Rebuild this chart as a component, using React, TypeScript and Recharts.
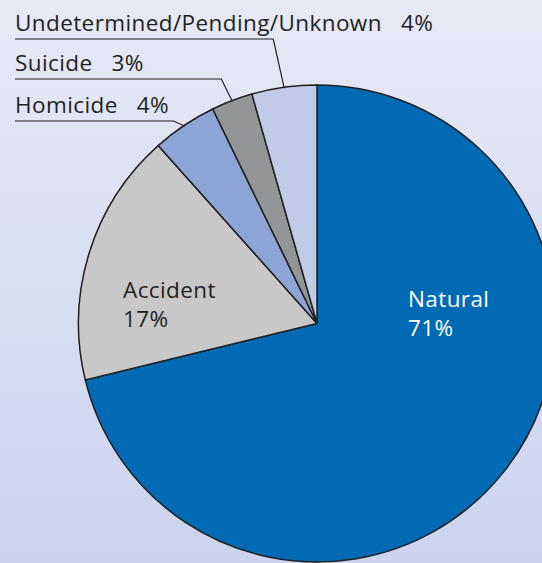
import React from 'react';
import { PieChart, Pie, Cell } from 'recharts';

// causes of death, clockwise from 12 o'clock
const causes = ['Natural', 'Accident', 'Homicide', 'Suicide', 'Undetermined/Pending/Unknown'];
const shares = [71.2, 17.2, 4.4, 2.8, 4.4];
const sliceColors = ['#006ab4', '#c8c8c8', '#8ca4d6', '#949597', '#c1cbe7'];

const data = causes.map((name, i) => ({ name, value: shares[i] }));

const RADIAN = Math.PI / 180;
const FONT = '"Open Sans", "DejaVu Sans", sans-serif';
const INK = '#231f20';

// y of the underline for each outside label (by slice index)
const rowY: Record<number, number> = { 2: 121, 3: 79, 4: 39 };

const renderLabel = (props: any) => {
  const { cx, cy, midAngle, outerRadius, index, name, value } = props;
  const pct = `${Math.round(value)}%`;

  if (index === 0 || index === 1) {
    const inside = index === 0
      ? { x: cx + 91, y: cy - 17, fill: '#ffffff' }
      : { x: cx - 194, y: cy - 26, fill: INK };
    return (
      <text x={inside.x} y={inside.y} fill={inside.fill} fontSize={22.5} letterSpacing={0.4} fontFamily={FONT}>
        <tspan x={inside.x}>{name}</tspan>
        <tspan x={inside.x} dy={29}>{pct}</tspan>
      </text>
    );
  }

  const ex = cx + (outerRadius - 1) * Math.cos(-midAngle * RADIAN);
  const ey = cy + (outerRadius - 1) * Math.sin(-midAngle * RADIAN);
  const ly = rowY[index];
  const bx = ex - 11;
  return (
    <g>
      <polyline
        points={`15,${ly} ${bx},${ly} ${ex},${ey}`}
        fill="none"
        stroke={INK}
        strokeWidth={1.2}
      />
      <text x={15} y={ly - 8} fill={INK} fontSize={22.5} letterSpacing={0.4} fontFamily={FONT}>
        {name}
        <tspan dx={19}>{pct}</tspan>
      </text>
    </g>
  );
};

export default function App() {
  return (
    <div
      style={{
        position: 'absolute',
        left: 0,
        top: 0,
        width: 542,
        height: 563,
        overflow: 'hidden',
        background: 'linear-gradient(#e7e9f6, #cbd3ee)',
      }}
    >
      <PieChart width={542} height={563} margin={{ top: 0, right: 0, bottom: 0, left: 0 }}>
        <Pie
          data={data}
          dataKey="value"
          nameKey="name"
          cx={317}
          cy={323.5}
          outerRadius={238.5}
          startAngle={90}
          endAngle={-270}
          stroke={INK}
          strokeWidth={1.5}
          label={renderLabel}
          labelLine={false}
          isAnimationActive={false}
        >
          {data.map((d, i) => (
            <Cell key={d.name} fill={sliceColors[i]} />
          ))}
        </Pie>
      </PieChart>
    </div>
  );
}
